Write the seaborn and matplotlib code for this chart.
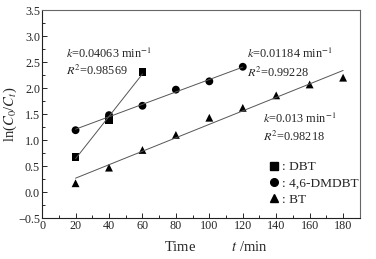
import numpy as np
import pandas as pd
import matplotlib
matplotlib.use('Agg')
import matplotlib.pyplot as plt
import seaborn as sns
from matplotlib.ticker import MultipleLocator

# Data
t_dbt = [20, 40, 60]
y_dbt = [0.68, 1.38, 2.31]
t_dmdbt = [20, 40, 60, 80, 100, 120]
y_dmdbt = [1.19, 1.48, 1.66, 1.97, 2.13, 2.41]
t_bt = [20, 40, 60, 80, 100, 120, 140, 160, 180]
y_bt = [0.17, 0.47, 0.81, 1.10, 1.43, 1.62, 1.86, 2.07, 2.20]

names = ['DBT', '4,6-DMDBT', 'BT']
k_labels = ['0.04063', '0.01184', '0.013']
r2_labels = ['0.98569', '0.99228', '0.98218']

df = pd.concat([
    pd.DataFrame({'t': t_dbt, 'y': y_dbt, 'name': 'DBT'}),
    pd.DataFrame({'t': t_dmdbt, 'y': y_dmdbt, 'name': '4,6-DMDBT'}),
    pd.DataFrame({'t': t_bt, 'y': y_bt, 'name': 'BT'}),
])

sns.set_style('ticks')
plt.rcParams['font.family'] = ['Liberation Serif', 'DejaVu Serif']
plt.rcParams['mathtext.fontset'] = 'stix'
plt.rcParams['font.size'] = 9

fig = plt.figure(figsize=(3.76, 2.59), dpi=100)
ax = fig.add_axes([0.112, 0.158, 0.845, 0.803])

# linear fit lines
for name in names:
    sub = df[df['name'] == name]
    p = np.polyfit(sub['t'], sub['y'], 1)
    xs = np.array([sub['t'].min(), sub['t'].max()])
    sns.lineplot(x=xs, y=np.polyval(p, xs), color='#555555', lw=0.7, ax=ax)

markers = {'DBT': 's', '4,6-DMDBT': 'o', 'BT': '^'}
sns.scatterplot(data=df, x='t', y='y', style='name', markers=markers,
                color='black', s=32, edgecolor='black', linewidth=0,
                legend=False, ax=ax)

ax.set_xlim(0, 190)
ax.set_ylim(-0.5, 3.5)
ax.xaxis.set_major_locator(MultipleLocator(20))
ax.xaxis.set_minor_locator(MultipleLocator(10))
ax.yaxis.set_major_locator(MultipleLocator(0.5))
ax.yaxis.set_minor_locator(MultipleLocator(0.25))
ax.tick_params(which='both', direction='in', top=False, right=False,
               labelsize=8.7, pad=1.5, width=0.7)
ax.tick_params(which='major', length=3.5)
ax.tick_params(which='minor', length=2)
for s in ax.spines.values():
    s.set_color('#666666')
    s.set_linewidth(0.8)
ax.spines['left'].set_color('#222222')
ax.spines['bottom'].set_color('#222222')

ax.set_xlabel('Time          $t$ /min', fontsize=10.5)
ax.xaxis.set_label_coords(0.547, -0.105)
ax.set_ylabel('ln($C_0$/$C_t$)', fontsize=10.5)
ax.yaxis.set_label_coords(-0.072, 0.5)

# annotations
ann = [(14, 2.58, 2.26), (122.5, 2.57, 2.22), (132, 1.33, 0.98)]
for (tx, yk, yr), k, r2 in zip(ann, k_labels, r2_labels):
    ax.text(tx, yk, '$k$=' + k + ' min$^{-1}$', fontsize=8.8)
    ax.text(tx, yr, '$R^2$=' + r2, fontsize=8.8)

# legend
handles = [plt.Line2D([], [], ls='', marker=markers[n], color='black', markersize=5.5)
           for n in names]
ax.legend(handles, [': ' + n for n in names], loc='lower right',
          bbox_to_anchor=(1.035, 0.0), frameon=False, fontsize=9.6,
          handletextpad=0.0, handlelength=1.2, labelspacing=0.3)

fig.savefig('out.png', dpi=100)
